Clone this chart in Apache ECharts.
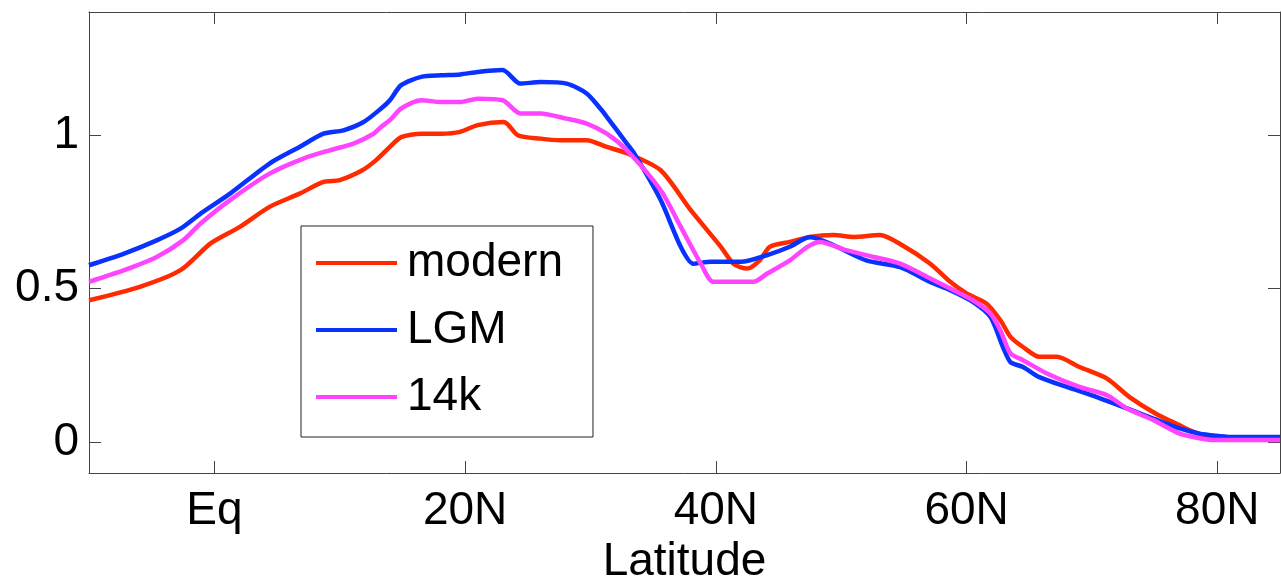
<!DOCTYPE html>
<html>
<head>
<meta charset="utf-8">
<script src="https://cdn.jsdelivr.net/npm/echarts@6/dist/echarts.min.js"></script>
<style>
html,body{margin:0;padding:0;background:#fff;}
#chart{width:1281px;height:580px;}
</style>
</head>
<body>
<div id="chart"></div>
<script>
// ---- data ----
const seriesNames = ['modern', 'LGM', '14k'];

const modernLat = [-10, -6, -2.7, -0.3, 2, 4.4, 6.8, 8.7, 10, 11.8, 12.9, 14, 14.9, 16.5, 18.1, 19.6, 21, 23.1, 24.2, 26, 27.6, 29.7, 31.3, 33, 35.6, 38, 40.4, 41.4, 42.5, 43.5, 44.3, 45.9, 47.5, 49.4, 51, 53.1, 54.7, 57.1, 58.7, 60, 61.6, 62.7, 63.5, 64.5, 65.8, 67.2, 69, 71.2, 73, 75.1, 77, 78.1, 79.5, 81, 85];
const modernVal = [0.462, 0.505, 0.56, 0.647, 0.70, 0.766, 0.809, 0.847, 0.853, 0.885, 0.918, 0.961, 0.993, 1.004, 1.004, 1.01, 1.032, 1.042, 0.999, 0.988, 0.983, 0.983, 0.961, 0.939, 0.885, 0.755, 0.636, 0.581, 0.565, 0.592, 0.636, 0.652, 0.668, 0.674, 0.668, 0.674, 0.645, 0.581, 0.522, 0.484, 0.451, 0.397, 0.343, 0.310, 0.278, 0.278, 0.245, 0.207, 0.147, 0.093, 0.055, 0.034, 0.015, 0.008, 0.008];

const lgmLat = [-10, -7.2, -4.6, -2.7, -1.1, 1.25, 4.4, 6.8, 8.7, 10.3, 11.9, 13.3, 14, 14.9, 16.5, 18.1, 19.6, 21, 23, 24.4, 26, 28.1, 29.7, 30.8, 31.3, 32.9, 33.5, 35.6, 37.2, 38.2, 39.6, 42, 44.1, 45.9, 47.5, 49.4, 52, 54.7, 57.1, 58.7, 60.5, 61.9, 62.9, 63.5, 64.5, 65.8, 68, 70.4, 72.8, 74.9, 77, 78.6, 80.2, 81, 85];
const lgmVal = [0.576, 0.614, 0.657, 0.695, 0.744, 0.809, 0.907, 0.961, 1.004, 1.015, 1.042, 1.086, 1.113, 1.162, 1.189, 1.194, 1.197, 1.205, 1.211, 1.167, 1.172, 1.167, 1.135, 1.085, 1.059, 0.972, 0.939, 0.788, 0.636, 0.581, 0.587, 0.587, 0.609, 0.636, 0.668, 0.641, 0.592, 0.570, 0.522, 0.495, 0.457, 0.408, 0.310, 0.261, 0.245, 0.212, 0.180, 0.147, 0.110, 0.077, 0.045, 0.028, 0.020, 0.017, 0.017];

const k14Lat = [-10, -7.2, -4.6, -2.5, -1.1, 1.25, 4.4, 7.1, 9.2, 11.1, 12.7, 13.3, 14, 14.9, 16.5, 18.1, 19.6, 21, 23, 24.4, 26, 28.1, 29.7, 31.3, 32.9, 35.6, 37.2, 38.8, 39.8, 41.4, 43, 44.1, 45.9, 47.3, 48.3, 50.4, 52.6, 54.7, 57.1, 58.7, 60.5, 61.9, 62.7, 63.5, 64.5, 66.4, 69, 71.2, 72.8, 74.9, 77, 78.1, 79.7, 85];
const k14Val = [0.522, 0.560, 0.603, 0.657, 0.712, 0.788, 0.874, 0.923, 0.950, 0.972, 1.004, 1.026, 1.048, 1.086, 1.113, 1.107, 1.107, 1.118, 1.113, 1.070, 1.070, 1.053, 1.037, 1.004, 0.950, 0.820, 0.701, 0.581, 0.522, 0.522, 0.522, 0.549, 0.592, 0.636, 0.652, 0.625, 0.603, 0.581, 0.533, 0.500, 0.462, 0.419, 0.364, 0.289, 0.267, 0.224, 0.180, 0.153, 0.110, 0.072, 0.028, 0.017, 0.007, 0.007];

const xTickValues = [0, 20, 40, 60, 80];
const xTickLabels = ['Eq', '20N', '40N', '60N', '80N'];
const yTickValues = [0, 0.5, 1];
const yTickLabels = ['0', '0.5', '1'];

// ---- chart ----
const FONT = "'Liberation Sans', Arial, Helvetica, sans-serif";
const colors = ['#ff2a00', '#0a32ff', '#ff44ff'];
const axisColor = '#444';

function pairs(lat, val) { return lat.map((x, i) => [x, val[i]]); }

const xLabelMap = {};
xTickValues.forEach((v, i) => { xLabelMap[v] = xTickLabels[i]; });
const yLabelMap = {};
yTickValues.forEach((v, i) => { yLabelMap[v] = yTickLabels[i]; });

const baseX = {
  type: 'value', min: -10, max: 85,
  splitLine: { show: false },
  axisLine: { show: true, onZero: false, lineStyle: { color: axisColor, width: 1 } },
  axisTick: { show: true, inside: true, length: 12, customValues: xTickValues, lineStyle: { color: axisColor, width: 1 } }
};
const baseY = {
  type: 'value', min: -0.1, max: 1.4,
  splitLine: { show: false },
  axisLine: { show: true, onZero: false, lineStyle: { color: axisColor, width: 1 } },
  axisTick: { show: true, inside: true, length: 12, customValues: yTickValues, lineStyle: { color: axisColor, width: 1 } }
};

const option = {
  animation: false,
  backgroundColor: '#fff',
  color: colors,
  grid: { left: 89, right: 1, top: 12, bottom: 107, containLabel: false, outerBoundsMode: 'none' },
  xAxis: [
    Object.assign({}, baseX, {
      position: 'bottom',
      name: 'Latitude', nameLocation: 'middle', nameGap: 62,
      nameTextStyle: { fontFamily: FONT, fontSize: 46, color: '#000' },
      axisLabel: {
        show: true, customValues: xTickValues, margin: 15,
        fontFamily: FONT, fontSize: 46, color: '#000',
        formatter: v => xLabelMap[v] !== undefined ? xLabelMap[v] : ''
      }
    }),
    Object.assign({}, baseX, { position: 'top', axisLabel: { show: false } })
  ],
  yAxis: [
    Object.assign({}, baseY, {
      position: 'left',
      axisLabel: {
        show: true, customValues: yTickValues, margin: 10,
        fontFamily: FONT, fontSize: 46, color: '#000',
        formatter: v => yLabelMap[v] !== undefined ? yLabelMap[v] : ''
      }
    }),
    Object.assign({}, baseY, { position: 'right', axisLabel: { show: false } })
  ],
  legend: {
    orient: 'vertical',
    left: 301, top: 226,
    data: seriesNames.map(n => ({ name: n, icon: 'rect' })),
    itemWidth: 81, itemHeight: 4, itemGap: 21,
    padding: [14, 30, 17, 15],
    borderColor: '#222', borderWidth: 1, backgroundColor: '#fff',
    textStyle: { fontFamily: FONT, fontSize: 46, color: '#000', lineHeight: 46, padding: [0, 0, 0, 5] }
  },
  series: [
    { name: seriesNames[0], type: 'line', data: pairs(modernLat, modernVal) },
    { name: seriesNames[1], type: 'line', data: pairs(lgmLat, lgmVal) },
    { name: seriesNames[2], type: 'line', data: pairs(k14Lat, k14Val) }
  ].map((s, i) => Object.assign(s, {
    xAxisIndex: 0, yAxisIndex: 0,
    showSymbol: false, symbol: 'none', smooth: 0.25,
    lineStyle: { width: 4.5, color: colors[i] },
    itemStyle: { color: colors[i] },
    z: 2 + i
  }))
};

const chart = echarts.init(document.getElementById('chart'), null, { renderer: 'canvas' });
chart.setOption(option);
</script>
</body>
</html>
